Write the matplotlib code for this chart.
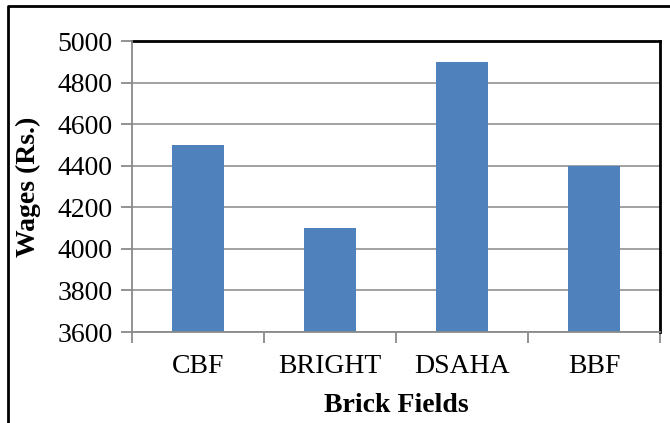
import matplotlib
matplotlib.use("Agg")
import matplotlib.pyplot as plt
from matplotlib.lines import Line2D

# wages paid at each brick field
fields = ["CBF", "BRIGHT", "DSAHA", "BBF"]
wages = [4500, 4100, 4900, 4400]
yticks = [3600, 3800, 4000, 4200, 4400, 4600, 4800, 5000]

plt.rcParams['font.family'] = ['Liberation Serif', 'DejaVu Serif']

fig = plt.figure(figsize=(6.7, 4.23), dpi=100)
ax = fig.add_axes([132/670, 1-332/423, (660-132)/670, (332-41)/423])

x = range(len(fields))
ax.bar(x, wages, width=0.4, color='#4F81BD', zorder=3)
ax.set_xlim(-0.5, len(fields)-0.5)
ax.set_ylim(3600, 5000)
ax.set_yticks(yticks)
ax.yaxis.grid(True, color='#9a9a9a', linewidth=1.3, zorder=0)

ax.set_xticks(list(x))
ax.set_xticklabels(fields)
ax.set_xticks([i-0.5 for i in range(len(fields)+1)], minor=True)
ax.tick_params(axis='x', which='major', length=0, pad=16, labelsize=20)
ax.tick_params(axis='x', which='minor', length=8, width=1.3, color='#8a8a8a', direction='out')
ax.tick_params(axis='y', length=8, width=1.3, color='#8a8a8a', labelsize=20, pad=6)

for s in ['left', 'bottom']:
    ax.spines[s].set_color('#8a8a8a')
    ax.spines[s].set_linewidth(1.3)
for s in ['top', 'right']:
    ax.spines[s].set_color('black')
    ax.spines[s].set_linewidth(2)
ax.spines['left'].set_zorder(4)
ax.spines['bottom'].set_zorder(4)

ax.set_xlabel("Brick Fields", fontsize=20, fontweight='bold', labelpad=10)
ax.set_ylabel("Wages (Rs.)", fontsize=20, fontweight='bold', labelpad=12)

# outer frame around the chart
fig.add_artist(Line2D([8/670, 8/670, 1.0], [0, 1-6/423, 1-6/423],
                      transform=fig.transFigure, color='black', linewidth=2))

fig.savefig("out.png", dpi=100)
